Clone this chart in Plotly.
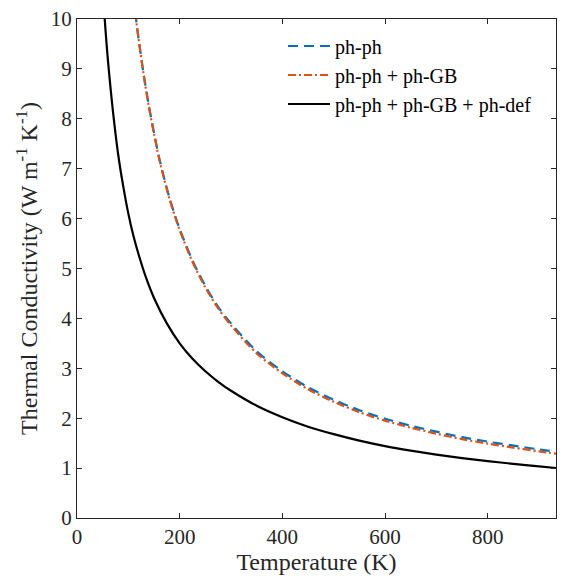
import plotly.graph_objects as go

# Temperature (K) and thermal conductivity (W m^-1 K^-1)
T_black = [50, 55, 60, 65, 70, 80, 90, 100, 110, 120, 135, 150, 175, 200, 225, 250, 275, 300,
           350, 400, 450, 500, 550, 600, 650, 700, 750, 800, 850, 900, 935]
k_black = [10.6, 9.85, 9.2, 8.65, 8.15, 7.3, 6.65, 6.1, 5.65, 5.28, 4.8, 4.41, 3.9, 3.5, 3.19, 2.94, 2.73, 2.55,
           2.25, 2.02, 1.83, 1.68, 1.55, 1.44, 1.35, 1.27, 1.2, 1.14, 1.085, 1.035, 1.0]

T_gb = [110, 115, 120, 130, 140, 150, 160, 170, 180, 190, 200, 225, 250, 275, 300,
        350, 400, 450, 500, 550, 600, 650, 700, 750, 800, 850, 900, 935]
k_gb = [10.45, 10.0, 9.6, 8.87, 8.24, 7.7, 7.2, 6.78, 6.4, 6.07, 5.77, 5.13, 4.62, 4.2, 3.86,
        3.3, 2.9, 2.58, 2.33, 2.12, 1.95, 1.81, 1.69, 1.58, 1.49, 1.41, 1.335, 1.285]

T_ph = [110, 115, 120, 130, 140, 150, 160, 170, 180, 190, 200, 225, 250, 275, 300,
        350, 400, 450, 500, 550, 600, 650, 700, 750, 800, 850, 900, 935]
k_ph = [10.45, 10.0, 9.6, 8.88, 8.26, 7.72, 7.22, 6.8, 6.42, 6.09, 5.79, 5.16, 4.65, 4.23, 3.9,
        3.34, 2.94, 2.62, 2.37, 2.16, 1.99, 1.85, 1.73, 1.62, 1.53, 1.45, 1.375, 1.325]

names = ["ph-ph", "ph-ph + ph-GB", "ph-ph + ph-GB + ph-def"]
x_ticks = [0, 200, 400, 600, 800]
y_ticks = list(range(0, 11))

fig = go.Figure()
fig.add_trace(go.Scatter(x=T_ph, y=k_ph, mode="lines", name=names[0],
                         line=dict(color="#0072BD", width=2.2, dash="10px,6px", shape="spline", smoothing=0.8)))
fig.add_trace(go.Scatter(x=T_gb, y=k_gb, mode="lines", name=names[1],
                         line=dict(color="#D95319", width=2.2, dash="8px,3px,2px,3px", shape="spline", smoothing=0.8)))
fig.add_trace(go.Scatter(x=T_black, y=k_black, mode="lines", name=names[2],
                         line=dict(color="black", width=2.2, shape="spline", smoothing=0.8)))

font_fam = "Liberation Serif, Times New Roman, serif"
axis_common = dict(showgrid=False, zeroline=False, showline=True, linecolor="#262626",
                   linewidth=1, mirror="ticks", ticks="inside", ticklen=5, tickcolor="#262626",
                   tickfont=dict(family=font_fam, size=21, color="#262626"))

fig.update_layout(
    width=564, height=580,
    margin=dict(l=77, r=7, t=13, b=62),
    paper_bgcolor="white", plot_bgcolor="white",
    font=dict(family=font_fam, color="#262626"),
    showlegend=True,
    legend=dict(x=0.43, y=0.985, xanchor="left", yanchor="top",
                bgcolor="rgba(255,255,255,0)", borderwidth=0, itemwidth=42,
                font=dict(family=font_fam, size=20, color="black")),
    xaxis=dict(range=[0, 933], tickvals=x_ticks,
               title=dict(text="Temperature (K)", font=dict(family=font_fam, size=24), standoff=2),
               **axis_common),
    yaxis=dict(range=[0, 10], tickvals=y_ticks,
               title=dict(text="Thermal Conductivity (W m<sup>-1</sup> K<sup>-1</sup>)",
                          font=dict(family=font_fam, size=24), standoff=6),
               **axis_common),
)

fig.write_html("out.html")
